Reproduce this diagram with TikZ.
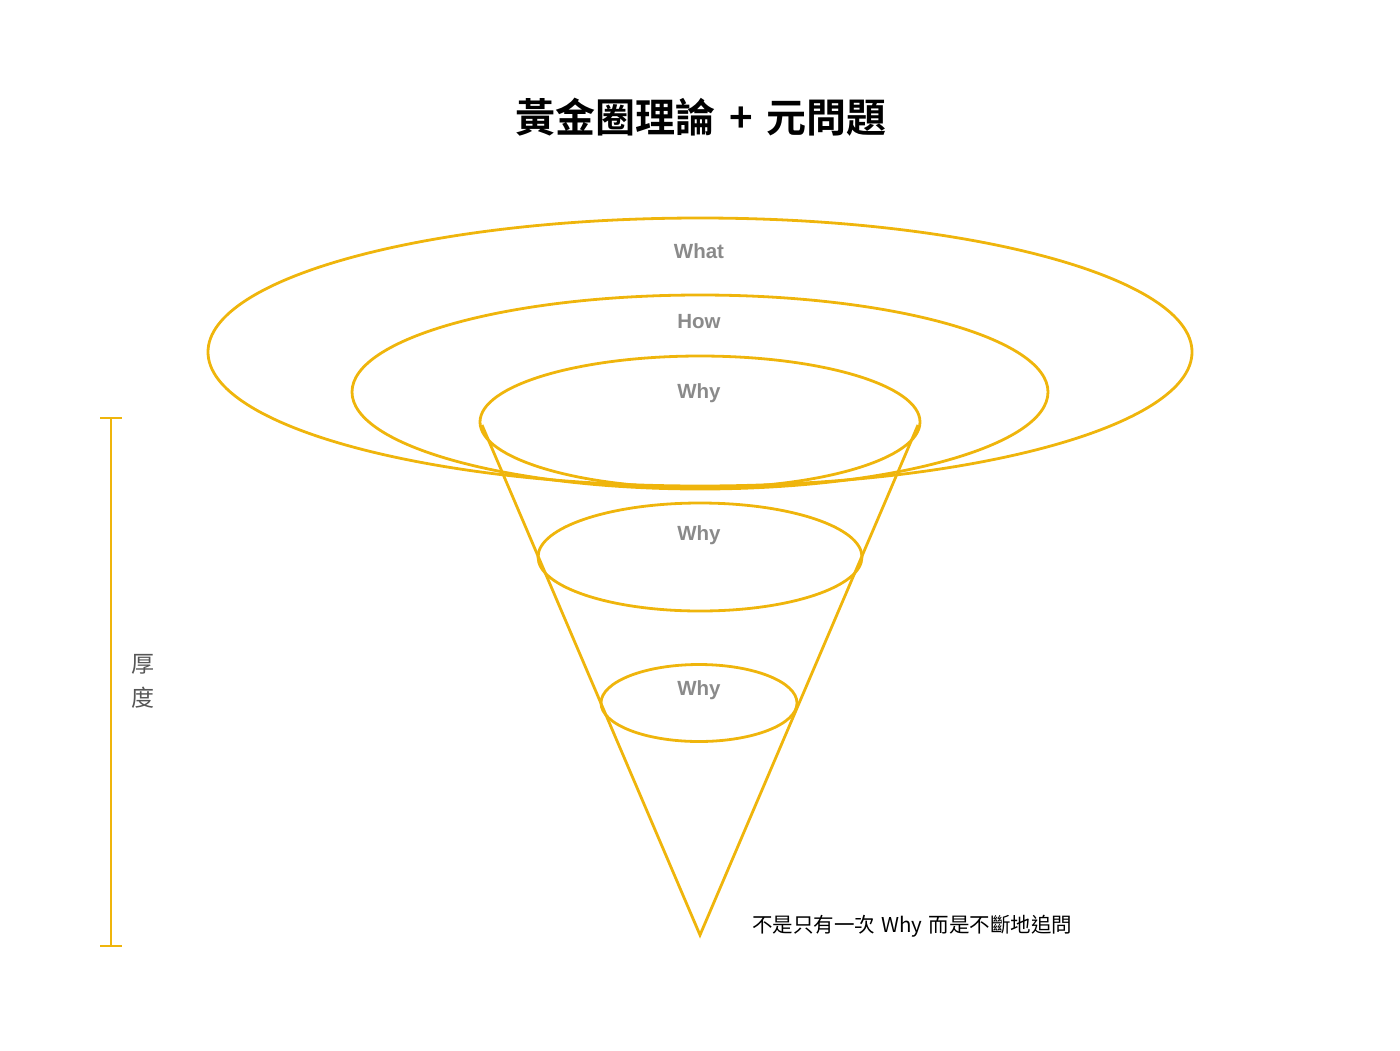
\documentclass[tikz,border=0pt]{standalone}
\usepackage{fontspec}
\setmainfont{Liberation Sans}
\newfontfamily\cjk{Noto Sans CJK TC}
\newfontfamily\cjkbold{Noto Sans CJK TC Bold}
\definecolor{gold}{HTML}{EFB50C}
\definecolor{lbl}{HTML}{8A8A8A}
\definecolor{side}{HTML}{555555}
\tikzset{
  ring/.style={draw=gold, line width=2.8pt},
  conel/.style={draw=gold, line width=2.8pt, line join=miter},
  lvl/.style={text=lbl, font=\fontsize{20.5}{24}\selectfont\bfseries, inner sep=0pt},
}
\begin{document}
\begin{tikzpicture}[x=1pt,y=-1pt]
\useasboundingbox (0,0) rectangle (1400,1050);
% title
\node[inner sep=0pt, font=\cjkbold\fontsize{40}{46}\selectfont] (title) at (701,117) {黃金圈理論\hspace{0.35em}+\hspace{0.35em}元問題};
% ellipses
\draw[ring] (700,352) ellipse [x radius=492, y radius=134];
\draw[ring] (700,392) ellipse [x radius=348, y radius=97];
\draw[ring] (700,422) ellipse [x radius=220, y radius=66];
\draw[ring] (700,557) ellipse [x radius=162, y radius=54];
\draw[ring] (699,703) ellipse [x radius=98, y radius=38.5];
% cone
\coordinate (cl) at (482,425);
\coordinate (cr) at (918,425);
\coordinate (tip) at (700,935);
\draw[conel] (cl) -- (tip) -- (cr);
% labels
\node[lvl] (what) at (699,251) {What};
\node[lvl] (how) at (699,322) {How};
\node[lvl] (why1) at (699,393) {Why};
\node[lvl] (why2) at (699,535) {Why};
\node[lvl] (why3) at (699,690) {Why};
% thickness bar
\coordinate (bt) at (111,418);
\coordinate (bb) at (111,946);
\draw[gold, line width=2.8pt] (bt) -- (bb);
\draw[gold, line width=2.8pt] (100,418) -- (122,418);
\draw[gold, line width=2.8pt] (100,946) -- (122,946);
\node[inner sep=0pt, text=side, font=\cjk\fontsize{23}{26}\selectfont] (hou) at (143,664) {厚};
\node[inner sep=0pt, text=side, font=\cjk\fontsize{23}{26}\selectfont] (du) at (143,698) {度};
% bottom note
\node[inner sep=0pt, anchor=west, font=\cjk\fontsize{20.5}{24}\selectfont] (note) at (752,926) {不是只有一次\hspace{0.3em}Why\hspace{0.3em}而是不斷地追問};
\end{tikzpicture}
\end{document}
